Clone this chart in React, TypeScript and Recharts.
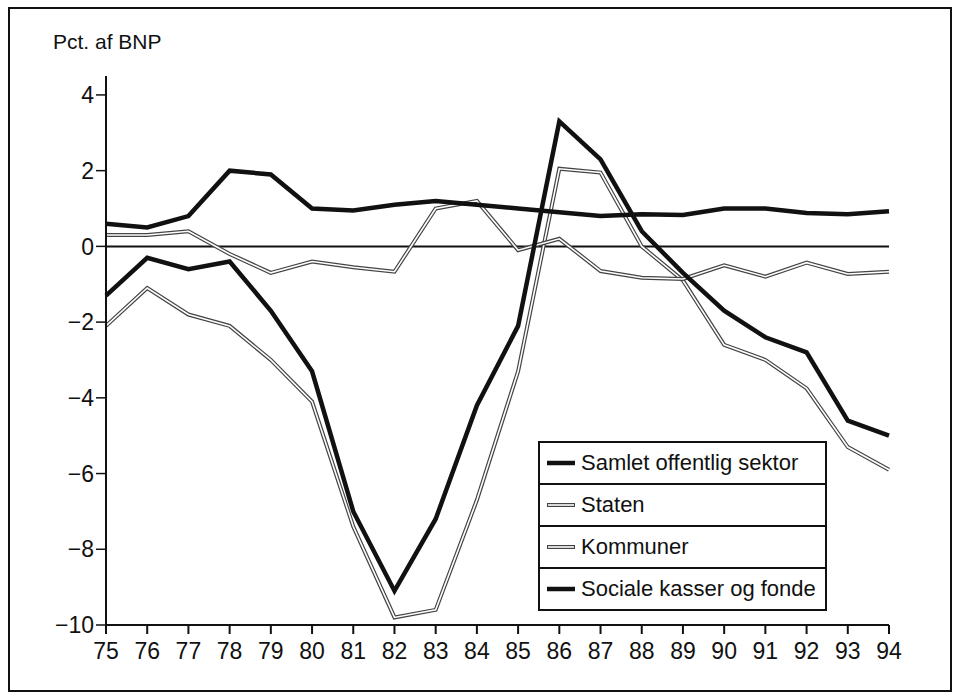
import { CartesianGrid, Legend, Line, LineChart, ReferenceLine, XAxis, YAxis } from 'recharts'

const years = [75, 76, 77, 78, 79, 80, 81, 82, 83, 84, 85, 86, 87, 88, 89, 90, 91, 92, 93, 94]
const samlet = [-1.3, -0.3, -0.6, -0.4, -1.7, -3.3, -7.0, -9.1, -7.2, -4.2, -2.1, 3.3, 2.3, 0.4, -0.7, -1.7, -2.4, -2.8, -4.6, -5.0]
const staten = [-2.1, -1.1, -1.8, -2.1, -3.0, -4.1, -7.4, -9.8, -9.6, -6.7, -3.3, 2.05, 1.95, 0.0, -0.9, -2.6, -3.0, -3.75, -5.3, -5.9]
const kommuner = [0.3, 0.3, 0.4, -0.2, -0.7, -0.4, -0.55, -0.67, 1.0, 1.2, -0.1, 0.2, -0.65, -0.83, -0.86, -0.5, -0.8, -0.43, -0.73, -0.67]
const sociale = [0.6, 0.5, 0.8, 2.0, 1.9, 1.0, 0.95, 1.1, 1.2, 1.1, 1.0, 0.9, 0.8, 0.85, 0.83, 1.0, 1.0, 0.88, 0.85, 0.93]
const yTicks = [-10, -8, -6, -4, -2, 0, 2, 4]

const legendItems = [
  { label: 'Samlet offentlig sektor', double: false },
  { label: 'Staten', double: true },
  { label: 'Kommuner', double: true },
  { label: 'Sociale kasser og fonde', double: false },
]

const FONT = '"Liberation Sans", Arial, sans-serif'

const data = years.map((y, i) => ({
  year: y,
  samlet: samlet[i],
  staten: staten[i],
  kommuner: kommuner[i],
  sociale: sociale[i],
}))

const fmt = (v: number) => (v < 0 ? `\u2212${Math.abs(v)}` : `${v}`)

function LegendBox() {
  return (
    <div
      style={{
        width: 285,
        border: '2px solid #111',
        background: '#fff',
        fontFamily: FONT,
        fontSize: 22,
        color: '#111',
      }}
    >
      {legendItems.map((it, i) => (
        <div
          key={it.label}
          style={{
            height: 40,
            display: 'flex',
            alignItems: 'center',
            borderTop: i === 0 ? 'none' : '2px solid #111',
            paddingLeft: 6,
          }}
        >
          <svg width={30} height={10} style={{ marginRight: 5 }}>
            {it.double ? (
              <>
                <line x1={1} y1={5} x2={29} y2={5} stroke="#444" strokeWidth={4} />
                <line x1={2} y1={5} x2={28} y2={5} stroke="#fff" strokeWidth={1.6} />
              </>
            ) : (
              <line x1={1} y1={5} x2={29} y2={5} stroke="#111" strokeWidth={4.5} />
            )}
          </svg>
          <span>{it.label}</span>
        </div>
      ))}
    </div>
  )
}

export default function App() {
  return (
    <div style={{ position: 'absolute', left: 0, top: 0, width: 953, height: 700, background: '#fff' }}>
      <div
        style={{
          position: 'absolute',
          left: 8,
          top: 7,
          width: 940,
          height: 681,
          border: '2px solid #111',
        }}
      />
      <div
        style={{
          position: 'absolute',
          left: 53,
          top: 30,
          fontFamily: FONT,
          fontSize: 21,
          color: '#111',
        }}
      >
        Pct. af BNP
      </div>
      <div style={{ position: 'absolute', left: 0, top: 0 }}>
        <LineChart
          width={953}
          height={700}
          data={data}
          margin={{ top: 76, right: 64, bottom: 35, left: 46 }}
        >
          <CartesianGrid stroke="none" />
          <XAxis
            dataKey="year"
            type="number"
            domain={[75, 94]}
            ticks={years}
            interval={0}
            height={40}
            tickSize={9}
            tickMargin={9}
            axisLine={{ stroke: '#111', strokeWidth: 2 }}
            tickLine={{ stroke: '#111', strokeWidth: 2 }}
            tick={{ fill: '#111', fontSize: 23, fontFamily: FONT }}
          />
          <YAxis
            type="number"
            domain={[-10, 4.5]}
            ticks={yTicks}
            width={60}
            tickSize={10}
            tickMargin={2}
            tickFormatter={fmt}
            axisLine={{ stroke: '#111', strokeWidth: 2 }}
            tickLine={{ stroke: '#111', strokeWidth: 1.5 }}
            tick={{ fill: '#111', fontSize: 23, fontFamily: FONT }}
          />
          <ReferenceLine y={0} stroke="#111" strokeWidth={2} />
          <Line dataKey="staten" type="linear" stroke="#444" strokeWidth={4} dot={false} isAnimationActive={false} legendType="none" />
          <Line dataKey="staten" type="linear" stroke="#fff" strokeWidth={1.6} dot={false} isAnimationActive={false} legendType="none" />
          <Line dataKey="kommuner" type="linear" stroke="#444" strokeWidth={4} dot={false} isAnimationActive={false} legendType="none" />
          <Line dataKey="kommuner" type="linear" stroke="#fff" strokeWidth={1.6} dot={false} isAnimationActive={false} legendType="none" />
          <Line dataKey="sociale" type="linear" stroke="#111" strokeWidth={4.5} dot={false} isAnimationActive={false} />
          <Line dataKey="samlet" type="linear" stroke="#111" strokeWidth={4.5} dot={false} isAnimationActive={false} />
          <Legend
            layout="horizontal"
            verticalAlign="middle"
            align="center"
            content={() => <LegendBox />}
            wrapperStyle={{ position: 'absolute', left: 538, top: 441, width: 289 }}
          />
        </LineChart>
      </div>
    </div>
  )
}
